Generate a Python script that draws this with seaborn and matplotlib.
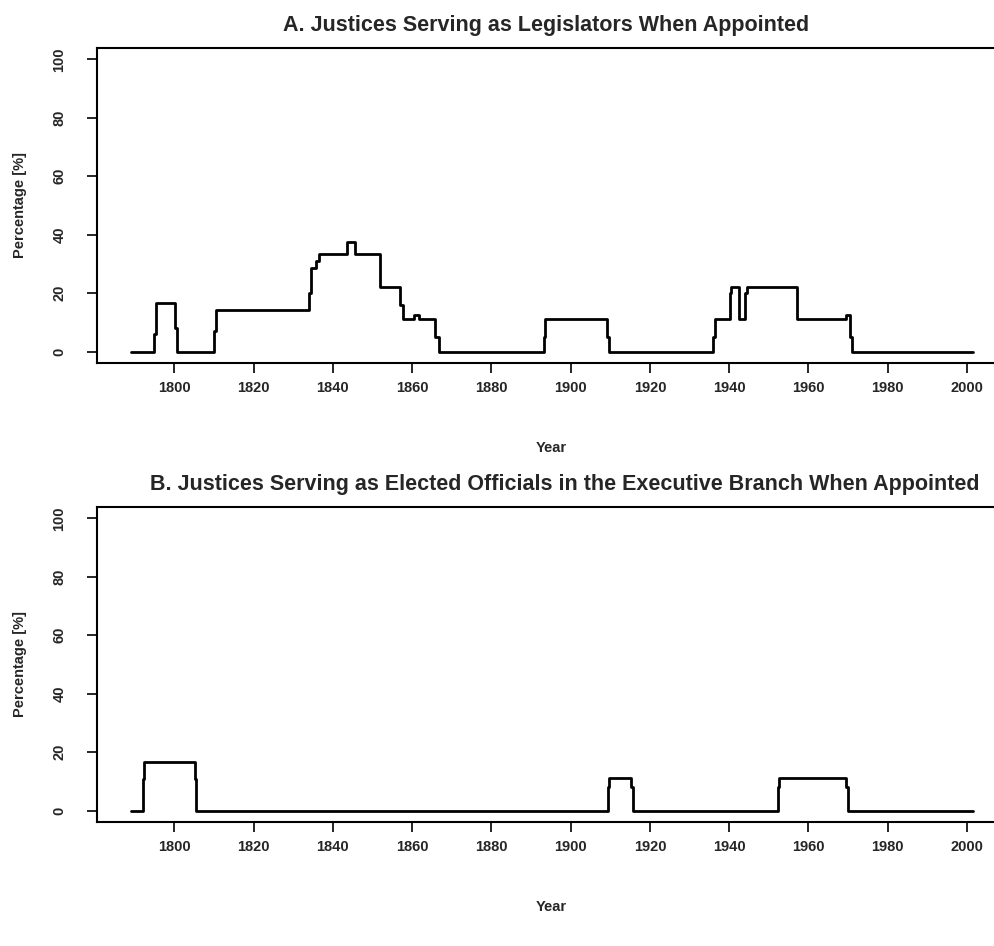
import pandas as pd
import seaborn as sns
import matplotlib.pyplot as plt

# panel A: share of justices serving as legislators when appointed (step series)
years_a = [1789, 1795.0, 1795.5, 1800.3, 1800.7, 1810.0, 1810.4,
           1834.0, 1834.5, 1835.8, 1836.6, 1843.5, 1845.5, 1852.0,
           1857.0, 1857.6, 1860.6, 1861.8, 1865.8, 1866.8,
           1893.2, 1893.6, 1909.2, 1909.8, 1936.0, 1936.4,
           1940.2, 1940.5, 1942.5, 1944.0, 1944.6, 1957.2,
           1969.4, 1970.5, 1971.0, 2001.5]
pct_a = [0, 6, 16.7, 8, 0, 7, 14.3,
         20, 28.6, 31, 33.3, 37.5, 33.3, 22.2,
         16, 11.1, 12.5, 11.1, 5, 0,
         5, 11.1, 5, 0, 5, 11.1,
         20, 22.2, 11.1, 20, 22.2, 11.1,
         12.5, 5, 0, 0]

# panel B: share serving as elected executive officials when appointed
years_b = [1789, 1792.0, 1792.4, 1805.2, 1805.6, 1909.3, 1909.8,
           1915.2, 1915.7, 1952.2, 1952.6, 1969.5, 1970.0, 2001.5]
pct_b = [0, 11, 16.7, 11, 0, 8, 11.1,
         8, 0, 8, 11.1, 8, 0, 0]

titles = ["A. Justices Serving as Legislators When Appointed",
          "B. Justices Serving as Elected Officials in the Executive Branch When Appointed"]
title_x = [0.495, 0.515]
x_ticks = list(range(1800, 2001, 20))
y_ticks = [0, 20, 40, 60, 80, 100]

sns.set_theme(style="ticks")
plt.rcParams['font.family'] = ['Liberation Sans', 'DejaVu Sans']

fig = plt.figure(figsize=(9.94, 9.46), dpi=100)
ax_a = fig.add_axes([0.0976, 0.6159, 0.9131, 0.3338])
ax_b = fig.add_axes([0.0976, 0.1307, 0.9131, 0.3338])

panels = [(ax_a, years_a, pct_a), (ax_b, years_b, pct_b)]
for (ax, yrs, pct), title, tx in zip(panels, titles, title_x):
    df = pd.DataFrame({"Year": yrs, "Pct": pct})
    sns.lineplot(data=df, x="Year", y="Pct", ax=ax, color="black",
                 linewidth=2.0, drawstyle="steps-post", estimator=None, sort=False)
    ax.set_xlim(1780.5, 2009.5)
    ax.set_ylim(-4, 104)
    ax.set_xticks(x_ticks)
    ax.set_yticks(y_ticks)
    ax.set_yticklabels([str(v) for v in y_ticks], rotation=90, va="center")
    ax.tick_params(axis="both", length=7, width=1.2, color="black", labelsize=10.5)
    ax.tick_params(axis="x", pad=5.5)
    ax.tick_params(axis="y", pad=15)
    for s in ax.spines.values():
        s.set_linewidth(1.5)
        s.set_color("black")
    ax.set_xlabel("Year", fontsize=10.5, labelpad=33)
    ax.set_ylabel("Percentage [%]", fontsize=10.5, labelpad=18)
    ax.set_title(title, fontsize=15.5, fontweight="bold", pad=12, x=tx)
    for lbl in ax.get_xticklabels() + ax.get_yticklabels():
        lbl.set_fontweight("bold")
    ax.xaxis.label.set_fontweight("bold")
    ax.yaxis.label.set_fontweight("bold")

fig.savefig("out.png", dpi=100)
